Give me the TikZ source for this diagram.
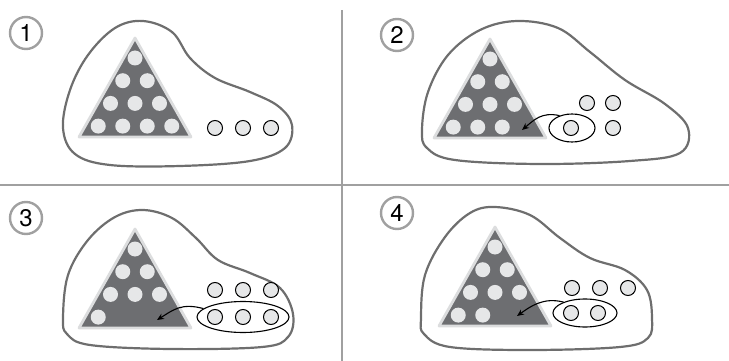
\documentclass[tikz,border=0pt]{standalone}
\usepackage{fontspec}
\newfontfamily\numfont{TeX Gyre Heros}
\usetikzlibrary{shapes.geometric,arrows.meta,calc}
\definecolor{divgray}{HTML}{A0A0A0}
\definecolor{blobgray}{HTML}{6E6E6E}
\definecolor{trifill}{HTML}{6D6E71}
\definecolor{triedge}{HTML}{DCDDDE}
\definecolor{ballfill}{HTML}{E6E7E8}
\tikzset{
  divider/.style={draw=divgray,line width=2pt},
  blob/.style={draw=blobgray,line width=2.2pt},
  pyr/.style={fill=trifill,draw=triedge,line width=2.8pt,line join=round},
  inball/.style={circle,fill=ballfill,minimum size=15pt,inner sep=0pt},
  outball/.style={circle,fill=ballfill,draw=black,line width=1pt,minimum size=15pt,inner sep=0pt},
  group/.style={ellipse,draw=black,line width=1.1pt,inner sep=0pt},
  numlabel/.style={circle,draw=divgray,line width=2.4pt,minimum size=32pt,inner sep=0pt,font=\numfont\fontsize{24}{24}\selectfont},
  move/.style={draw=black,line width=1.1pt,-{Stealth[length=7pt,width=6pt]}}
}
% #1 panel id, #2 apex x, #3 apex y, #4 number of balls in bottom row
\newcommand{\pyramidbox}[4]{%
  \path[pyr] (#2,#3+3) -- (#2-56,#3+102) -- (#2+56,#3+102) -- cycle;
  \foreach \k in {0,1,2} {
    \foreach \i in {0,...,\k} {
      \node[inball] (b#1r\k c\i) at ({#2+(\i-\k/2)*24.5},{#3+23+22.7*\k}) {};
    }
  }
  \foreach \i in {1,...,#4} {
    \node[inball] (b#1r3c\i) at ({#2+(\i-1-1.5)*24.5},{#3+23+22.7*3}) {};
  }
}
\begin{document}
\begin{tikzpicture}[x=1pt,y=-1pt]
\useasboundingbox (0,0) rectangle (729,361);
% dividers
\coordinate (vtop) at (342,10);
\coordinate (vbot) at (342,361);
\coordinate (hl) at (0,185);
\coordinate (hr) at (729,185);
\draw[divider] (vtop) -- (vbot);
\draw[divider] (hl) -- (hr);

% ---------- panel 1 ----------
\node[numlabel] (n1) at (26,33) {1};
\draw[blob] plot[smooth cycle,tension=0.6] coordinates {
  (63,128) (70,90) (88,55) (115,28) (143,21) (172,32) (190,58) (215,78) (250,92) (278,106) (292,125) (285,148) (250,161) (180,166) (110,165) (75,154)};
\pyramidbox{1}{135}{35}{4}
\node[outball] (o1a) at (215,128) {};
\node[outball] (o1b) at (243,128) {};
\node[outball] (o1c) at (271,128) {};

% ---------- panel 2 ----------
\node[numlabel] (n2) at (397,35) {2};
\draw[blob] plot[smooth cycle,tension=0.6] coordinates {
  (422,130) (428,92) (448,55) (480,30) (517,21) (558,28) (590,52) (625,80) (665,104) (688,128) (680,153) (630,161) (540,164) (455,160) (427,148)};
\pyramidbox{2}{490}{36}{3}
\node[outball] (o2a) at (587,103) {};
\node[outball] (o2b) at (613,103) {};
\node[outball] (o2c) at (613,128) {};
\node[outball] (o2d) at (571,128) {};
\node[group,minimum width=46pt,minimum height=28pt] (e2) at (572,128) {};
\coordinate (t2) at (522,130);
\draw[move] (e2.135) .. controls +(-18,-4) and +(12,-10) .. (t2);

% ---------- panel 3 ----------
\node[numlabel] (n3) at (26,218) {3};
\draw[blob] plot[smooth cycle,tension=0.6] coordinates {
  (63,318) (68,275) (88,240) (115,217) (143,210) (172,218) (196,238) (218,260) (250,273) (280,288) (293,314) (288,337) (262,347) (170,349) (90,345) (67,334)};
\pyramidbox{3}{135}{226}{1}
\node[outball] (o3a) at (215,290) {};
\node[outball] (o3b) at (243,290) {};
\node[outball] (o3c) at (271,290) {};
\node[outball] (o3d) at (215,317) {};
\node[outball] (o3e) at (243,317) {};
\node[outball] (o3f) at (271,317) {};
\node[group,minimum width=92pt,minimum height=31pt] (e3) at (243,317) {};
\coordinate (t3) at (157,320);
\draw[move] (e3.168) .. controls +(-22,-6) and +(16,-10) .. (t3);

% ---------- panel 4 ----------
\node[numlabel] (n4) at (397,213) {4};
\draw[blob] plot[smooth cycle,tension=0.6] coordinates {
  (421,318) (425,275) (445,237) (470,213) (495,207) (530,215) (560,238) (590,258) (625,270) (647,290) (652,318) (648,338) (620,347) (530,350) (450,347) (424,334)};
\pyramidbox{4}{495}{224}{2}
\node[outball] (o4a) at (572,288) {};
\node[outball] (o4b) at (600,288) {};
\node[outball] (o4c) at (628,288) {};
\node[outball] (o4d) at (571,313) {};
\node[outball] (o4e) at (598,313) {};
\node[group,minimum width=64pt,minimum height=28pt] (e4) at (585,313) {};
\coordinate (t4) at (517,316);
\draw[move] (e4.153) .. controls +(-20,-5) and +(14,-10) .. (t4);
\end{tikzpicture}
\end{document}
